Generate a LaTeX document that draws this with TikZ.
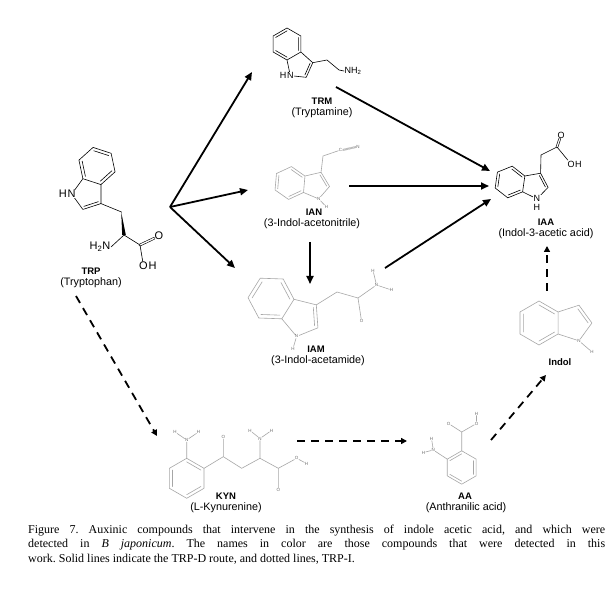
\documentclass[tikz,border=0pt]{standalone}
\usepackage{fontspec}
\setmainfont{Liberation Serif}
\newfontfamily\labfont{Liberation Sans}
\usetikzlibrary{calc,arrows.meta}
\frenchspacing
% indole skeleton: name, centre x, centre y (pixels, y down), bond length, rotation
\newcommand{\indole}[5]{%
 \begin{scope}[shift={(#2,#3)}, rotate=#5, x=#4pt, y=#4pt]
  \coordinate (#1-c) at (0,0);
  \coordinate (#1-4) at (90:1);
  \coordinate (#1-5) at (150:1);
  \coordinate (#1-6) at (210:1);
  \coordinate (#1-7) at (270:1);
  \coordinate (#1-7a) at (330:1);
  \coordinate (#1-3a) at (30:1);
  \coordinate (#1-p) at (1.5542,0);
  \coordinate (#1-3) at (1.8171,0.8090);
  \coordinate (#1-2) at (2.4049,0);
  \coordinate (#1-1) at (1.8171,-0.8090);
 \end{scope}}
\newcommand{\indolebonds}[2]{%
 \draw[#2] (#1-4)--(#1-5)--(#1-6)--(#1-7)--(#1-7a)--(#1-3a)--cycle
   (#1-3a)--(#1-3)--(#1-2)--(#1-1)--(#1-7a);
 \draw[#2] ($(#1-3a)!.18!(#1-c)$)--($(#1-4)!.18!(#1-c)$)
   ($(#1-5)!.18!(#1-c)$)--($(#1-6)!.18!(#1-c)$)
   ($(#1-7)!.18!(#1-c)$)--($(#1-7a)!.18!(#1-c)$)
   ($(#1-2)!.2!(#1-p)$)--($(#1-3)!.2!(#1-p)$);}
\newcommand{\benzring}[4]{%
 \begin{scope}[shift={(#2,#3)}, x=#4pt, y=#4pt]
  \coordinate (#1-c) at (0,0);
  \coordinate (#1-t) at (90:1);
  \coordinate (#1-ur) at (30:1);
  \coordinate (#1-lr) at (-30:1);
  \coordinate (#1-b) at (-90:1);
  \coordinate (#1-ll) at (210:1);
  \coordinate (#1-ul) at (150:1);
 \end{scope}}
\newcommand{\innerbond}[4]{\draw[#1] ($(#2)!.18!(#4)$)--($(#3)!.18!(#4)$);}
\begin{document}
\begin{tikzpicture}[x=1pt,y=-1pt, line join=round,
  bond/.style={line width=0.6pt, draw=black, line cap=round},
  gbond/.style={line width=0.6pt, draw=gray!70, line cap=round},
  atomL/.style={font=\labfont\fontsize{11}{11}\selectfont, inner sep=0.5pt},
  atomS/.style={font=\labfont\fontsize{9}{9}\selectfont, inner sep=0.4pt},
  tinyatom/.style={font=\labfont\fontsize{4.5}{4.5}\selectfont, text=gray!85!black, inner sep=0.3pt, fill=white},
  molname/.style={font=\labfont\bfseries\fontsize{9.5}{10}\selectfont, inner sep=0},
  molsub/.style={font=\labfont\fontsize{10.8}{11}\selectfont, inner sep=0},
  arr/.style={line width=1.8pt, -{Triangle[length=8pt,width=7pt]}},
  darr/.style={line width=1.8pt, dash pattern=on 8pt off 6pt, -{Triangle[length=6pt,width=6pt]}},
  capline/.style={font=\fontsize{12}{14}\selectfont, inner sep=0, anchor=base west},
]
\fill[white] (0,0) rectangle (615,593);
\path[use as bounding box] (0,0) rectangle (615,593);

% ---------------- TRP ----------------
\indole{trp}{97}{166}{19}{-108}
\indolebonds{trp}{bond}
\coordinate (trp-ch2) at (121.5,212);
\coordinate (trp-ca) at (124,235);
\coordinate (trp-cc) at (140,245);
\draw[bond] (trp-3)--(trp-ch2);
\fill ($(trp-ch2)+(-0.3,0)$) -- ($(trp-ca)+(-1.8,0)$) -- ($(trp-ca)+(1.8,0)$) -- cycle;
\draw[bond] (trp-ca)--(trp-cc);
\node[atomL,fill=white] (trpN) at (trp-1) {N};
\node[atomL,anchor=east,xshift=0.6pt] (trpH) at (trpN.west) {H};
\node[atomL,anchor=east] (trpNH2) at (111,247) {H\textsubscript{2}N};
\draw[bond] (trp-ca)--(trpNH2.east);
\node[atomL] (trpO) at (159,236) {O};
\draw[bond,double,double distance=1.3pt] (trp-cc)--(trpO);
\node[atomL] (trpOH) at (143.5,266) {O};
\node[atomL,anchor=west,xshift=-0.6pt] (trpOHh) at (trpOH.east) {H};
\draw[bond] (trp-cc)--(trpOH);
\node[molname] (trpName) at (91,271) {TRP};
\node[molsub] (trpSub) at (91,283) {(Tryptophan)};

% ---------------- TRM ----------------
\indole{trm}{287}{44}{16}{-60}
\indolebonds{trm}{bond}
\coordinate (trm-a) at (327,60);
\coordinate (trm-b) at (339,70);
\node[atomS,anchor=west] (trmNH2) at (344,71) {NH\textsubscript{2}};
\draw[bond] (trm-3)--(trm-a)--(trm-b)--(trmNH2.west);
\node[atomS,fill=white] (trmN) at (trm-1) {N};
\node[atomS,anchor=east,xshift=0.5pt] (trmH) at (trmN.west) {H};
\node[molname] (trmName) at (322,101) {TRM};
\node[molsub] (trmSub) at (322,113) {(Tryptamine)};

% ---------------- IAN ----------------
\indole{ian}{290}{183}{16.5}{-5}
\indolebonds{ian}{gbond}
\coordinate (ian-ch2) at (323,156);
\node[tinyatom] (ianC) at (340.5,150) {C};
\node[tinyatom] (ianNt) at (358,147) {N};
\draw[gbond] (ian-3)--(ian-ch2)--(ianC);
\draw[gbond,line width=0.3pt] ($(ianC.east)+(0,-0.8)$)--($(ianNt.west)+(0,-0.8)$)
  (ianC.east)--(ianNt.west) ($(ianC.east)+(0,0.8)$)--($(ianNt.west)+(0,0.8)$);
\node[tinyatom] (ianN) at (ian-1) {N};
\node[tinyatom] (ianH) at (326.5,207) {H};
\draw[gbond] (ianN)--(ianH);
\node[molname] (ianName) at (314,212) {IAN};
\node[molsub] (ianSub) at (312,224) {(3-Indol-acetonitrile)};

% ---------------- IAM ----------------
\indole{iam}{271}{298.5}{23}{-32}
\indolebonds{iam}{gbond}
\coordinate (iam-ch2) at (337,292);
\coordinate (iam-cc) at (358,298);
\draw[gbond] (iam-3)--(iam-ch2)--(iam-cc);
\node[tinyatom] (iamO) at (361.5,321) {O};
\node[tinyatom] (iamNa) at (376.5,285) {N};
\node[tinyatom] (iamH1) at (373,270.5) {H};
\node[tinyatom] (iamH2) at (391.5,290) {H};
\draw[gbond] (iam-cc)--(iamO) (iam-cc)--(iamNa) (iamNa)--(iamH1) (iamNa)--(iamH2);
\node[tinyatom] (iamN) at (iam-1) {N};
\node[tinyatom] (iamH) at (293,348.5) {H};
\draw[gbond] (iamN)--(iamH);
\node[molname] (iamName) at (316,349) {IAM};
\node[molsub] (iamSub) at (318,361) {(3-Indol-acetamide)};

% ---------------- IAA ----------------
\indole{iaa}{510}{182}{16}{-8}
\indolebonds{iaa}{bond}
\coordinate (iaa-ch2) at (541,155);
\coordinate (iaa-cc) at (557,147);
\draw[bond] (iaa-3)--(iaa-ch2)--(iaa-cc);
\node[atomS] (iaaO) at (561,135) {O};
\draw[bond,double,double distance=1.2pt] (iaa-cc)--(iaaO);
\node[atomS] (iaaOH) at (571,164) {O};
\node[atomS,anchor=west,xshift=-0.5pt] (iaaOHh) at (iaaOH.east) {H};
\draw[bond] (iaa-cc)--(iaaOH);
\node[atomS,fill=white] (iaaN) at (iaa-1) {N};
\node[atomS,anchor=north,yshift=-1pt] (iaaH) at (iaaN.south) {H};
\node[molname] (iaaName) at (546,222) {IAA};
\node[molsub] (iaaSub) at (546,234) {(Indol-3-acetic acid)};

% ---------------- Indol ----------------
\indole{ind}{539}{323}{22}{0}
\indolebonds{ind}{gbond}
\node[tinyatom] (indN) at (ind-1) {N};
\node[tinyatom] (indH) at (592,352) {H};
\draw[gbond] (indN)--(indH);
\node[molname] (indName) at (560,362) {Indol};

% ---------------- KYN ----------------
\benzring{kyn}{186.7}{478.3}{20}
\draw[gbond] (kyn-t)--(kyn-ur)--(kyn-lr)--(kyn-b)--(kyn-ll)--(kyn-ul)--cycle;
\innerbond{gbond}{kyn-ul}{kyn-ll}{kyn-c}
\innerbond{gbond}{kyn-b}{kyn-lr}{kyn-c}
\innerbond{gbond}{kyn-t}{kyn-ur}{kyn-c}
\coordinate (kyn-c1) at (223.3,456.7);
\coordinate (kyn-ch2) at (241.7,468.3);
\coordinate (kyn-ca) at (260,458.3);
\coordinate (kyn-c2) at (278.3,468.3);
\node[tinyatom] (kynN1) at (186.7,440) {N};
\node[tinyatom] (kynH1) at (175,432) {H};
\node[tinyatom] (kynH2) at (198.5,432) {H};
\node[tinyatom] (kynO1) at (223.3,437) {O};
\node[tinyatom] (kynN2) at (260,438.5) {N};
\node[tinyatom] (kynH3) at (250,430.5) {H};
\node[tinyatom] (kynH4) at (271.5,430.5) {H};
\node[tinyatom] (kynO2) at (278.3,490) {O};
\node[tinyatom] (kynO3) at (296.7,458.3) {O};
\node[tinyatom] (kynH5) at (306.5,463.5) {H};
\draw[gbond] (kyn-t)--(kynN1) (kynN1)--(kynH1) (kynN1)--(kynH2)
  (kyn-ur)--(kyn-c1)--(kyn-ch2)--(kyn-ca)--(kyn-c2)--(kynO3)
  (kyn-c1)--(kynO1) (kyn-ca)--(kynN2) (kynN2)--(kynH3) (kynN2)--(kynH4)
  (kyn-c2)--(kynO2) (kynO3)--(kynH5);
\node[molname] (kynName) at (226,496) {KYN};
\node[molsub] (kynSub) at (226,507.5) {(L-Kynurenine)};

% ---------------- AA ----------------
\benzring{aa}{461.7}{467.5}{16.7}
\draw[gbond] (aa-t)--(aa-ur)--(aa-lr)--(aa-b)--(aa-ll)--(aa-ul)--cycle;
\innerbond{gbond}{aa-ur}{aa-lr}{aa-c}
\innerbond{gbond}{aa-ll}{aa-b}{aa-c}
\innerbond{gbond}{aa-ul}{aa-t}{aa-c}
\coordinate (aa-cc) at (461.7,432);
\node[tinyatom] (aaO1) at (448.5,423.5) {O};
\node[tinyatom] (aaO2) at (476.5,423.5) {O};
\node[tinyatom] (aaH1) at (476.5,413.5) {H};
\node[tinyatom] (aaN) at (433.3,450) {N};
\node[tinyatom] (aaH2) at (431.5,438.5) {H};
\node[tinyatom] (aaH3) at (423.5,452.5) {H};
\draw[gbond] (aa-t)--(aa-cc)--(aaO1) (aa-cc)--(aaO2) (aaO2)--(aaH1)
  (aa-ul)--(aaN) (aaN)--(aaH2) (aaN)--(aaH3);
\node[molname] (aaName) at (465,496) {AA};
\node[molsub] (aaSub) at (466,507.5) {(Anthranilic acid)};

% ---------------- arrows ----------------
\coordinate (hub) at (170,207);
\coordinate (trmIn) at (252,72);
\coordinate (ianIn) at (248,190);
\coordinate (iamIn) at (235,268);
\coordinate (trmOut) at (336,87);
\coordinate (iaaIn1) at (490,171);
\coordinate (ianOut) at (349,186);
\coordinate (iaaIn2) at (489,186);
\coordinate (iamOut) at (385,268);
\coordinate (iaaIn3) at (491,199);
\coordinate (ianDown) at (310,242);
\coordinate (iamTop) at (310,284);
\coordinate (trpOut) at (76,296);
\coordinate (kynIn) at (157,436);
\coordinate (kynOut) at (297,441);
\coordinate (aaIn) at (407,441);
\coordinate (aaOut) at (491,440);
\coordinate (indIn) at (546,375);
\coordinate (indOut) at (547,291);
\coordinate (iaaIn4) at (547,246);

\draw[arr] (hub)--(trmIn);
\draw[arr] (hub)--(ianIn);
\draw[arr] (hub)--(iamIn);
\draw[arr] (trmOut)--(iaaIn1);
\draw[arr] (ianOut)--(iaaIn2);
\draw[arr] (iamOut)--(iaaIn3);
\draw[arr] (ianDown)--(iamTop);
\draw[darr] (trpOut)--(kynIn);
\draw[darr] (kynOut)--(aaIn);
\draw[darr] (aaOut)--(indIn);
\draw[darr] (indOut)--(iaaIn4);

% ---------------- caption ----------------
\node[capline] (cap1) at (28,533) {\makebox[577pt][s]{Figure 7. Auxinic compounds that intervene in the synthesis of indole acetic acid, and which were}};
\node[capline] (cap2) at (28,547.5) {\makebox[577pt][s]{detected in \textit{B japonicum}. The names in color are those compounds that were detected in this}};
\node[capline] (cap3) at (28,562) {work. Solid lines indicate the TRP-D route, and dotted lines, TRP-I.};
\end{tikzpicture}
\end{document}
